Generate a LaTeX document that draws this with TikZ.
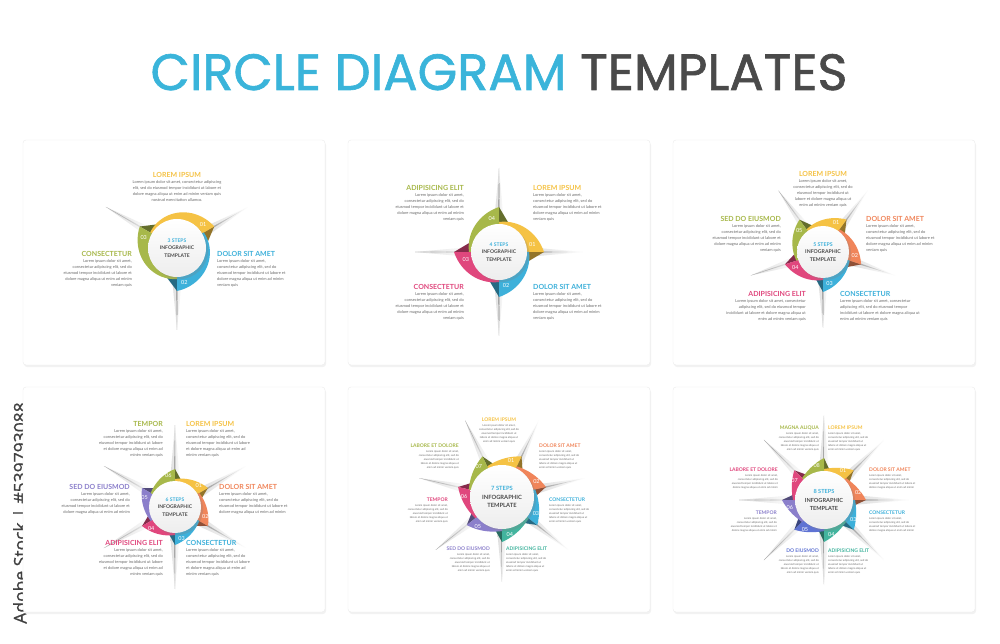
\documentclass[tikz,border=0pt]{standalone}
\usepackage{fontspec}
\newfontfamily\lato{Lato}
\newfontfamily\poppins{Poppins}[FakeBold=1.2]
\newfontfamily\opensans{Open Sans}[FakeBold=0.8]
\usepackage{tikz}
\usetikzlibrary{positioning,shadows}
\definecolor{cyel}{HTML}{F5C244}
\definecolor{cora}{HTML}{F0855A}
\definecolor{cblu}{HTML}{3DB0DA}
\definecolor{ctea}{HTML}{42B49E}
\definecolor{cind}{HTML}{5F73D3}
\definecolor{cpur}{HTML}{8B7FCB}
\definecolor{cpin}{HTML}{E0477D}
\definecolor{cgre}{HTML}{A7B84A}
\definecolor{ctxt}{HTML}{6A6A6A}
\definecolor{cdark}{HTML}{4A4A4A}
\definecolor{ctitle}{HTML}{3AB4DA}
\newcommand{\ancr}{south east}
\newcommand{\ancl}{south west}
\newcommand{\ancc}{south}
\newcommand{\loremA}{Lorem ipsum dolor sit amet,\\consectetur adipiscing elit, sed do\\eiusmod tempor incididunt ut labore et\\dolore magna aliqua ut enim ad minim\\veniam quis}
\newcommand{\loremB}{Lorem ipsum dolor sit amet, consectetur adipiscing\\elit, sed do eiusmod tempor incididunt ut labore et\\dolore magna aliqua ut enim ad minim veniam quis\\nostrud exercitation ullamco.}
\newcommand{\loremC}{Lorem ipsum dolor sit amet,\\consectetur adipiscing elit, sed do\\eiusmod tempor incididunt ut\\labore et dolore magna aliqua ut\\enim ad minim veniam quis}
\newcommand{\loremD}{Lorem ipsum dolor sit amet, consectetur\\adipiscing elit, sed do eiusmod tempor\\incididunt ut labore et dolore magna aliqua ut\\enim ad minim veniam quis}
\newcommand{\loremE}{Lorem ipsum dolor sit amet,\\consectetur adipiscing elit, sed do\\eiusmod tempor incididunt ut labore et\\dolore magna aliqua ut enim ad minim}
\newcommand{\loremF}{Lorem ipsum dolor sit amet,\\consectetur adipiscing elit, sed do\\eiusmod tempor incididunt ut labore\\et dolore magna aliqua ut enim ad\\minim veniam quis}
% heading and text block: name, position, side (r/l/c), colour, heading, text
\newcommand{\note}[6]{
  \node (#1) [head, head-#3, text=#4] at (#2) {#5};
  \node (#1t) [body, below=2.2pt of #1.\csname anc#3\endcsname, body-#3] {#6};}
% one wheel: name, centre, steps, first end angle, hub radius, ring radius, spoke length, colours, hub font size
\newcommand{\wheel}[9]{
  \begin{scope}[shift={#2}]
    \pgfmathsetmacro{\stp}{360/#3}
    \pgfmathsetmacro{\hubskip}{1.5*#9}
    % spokes
    \foreach \k in {1,...,#3} {
      \pgfmathsetmacro{\aend}{#4-(\k-1)*\stp}
      \begin{scope}[rotate=\aend]
        \shade[spokeglow] (#5,5) -- (#7,0) -- (#5,-5) -- cycle;
        \shade[spoke] (#5,0.9) -- (#7,0) -- (#5,-0.9) -- cycle;
      \end{scope}
    }
    % folds under the segment ends
    \foreach \col [count=\k] in {#8} {
      \pgfmathsetmacro{\aend}{#4-(\k-1)*\stp}
      \fill[\col!60!black] ({\aend}:{#6}) -- ({\aend}:{#5-3})
          -- ({\aend-0.4*\stp}:{#5-3}) -- cycle;
    }
    % segments
    \foreach \col [count=\k] in {#8} {
      \pgfmathsetmacro{\aend}{#4-(\k-1)*\stp}
      \pgfmathsetmacro{\abeg}{\aend+\stp}
      \fill[\col] plot[domain=0:1,samples=30,variable=\t]
          ({\abeg-\t*\stp}:{#5+2+(#6-#5-2)*(0.4*\t+0.6*\t*\t)})
        -- ({\aend}:{#5-3}) arc[start angle=\aend, end angle=\abeg, radius={#5-3}] -- cycle;
    }
    \node (#1) [hub, minimum size={2*#5},
      font={\lato\bfseries\fontsize{#9}{\hubskip}\selectfont}] at (0,0)
      {\textcolor{cblu}{#3 STEPS}\\INFOGRAPHIC\\TEMPLATE};
    \foreach \col [count=\k] in {#8} {
      \pgfmathsetmacro{\aend}{#4-(\k-1)*\stp}
      \node (#1n\k) [num] at ({\aend+12}:{#5+6}) {0\k};
    }
  \end{scope}}

\begin{document}
\begin{tikzpicture}
[x=1pt,y=1pt,
card/.style={fill=white,draw=black!8,rounded corners=3pt},
cardshade/.style={fill=black!5,rounded corners=3pt},
spoke/.style={left color=black!45,right color=white},
spokeglow/.style={left color=black!14,right color=white},
hub/.style={circle,inner sep=0,top color=white,bottom color=black!7,
  drop shadow={opacity=0.25},align=center,text=cdark},
num/.style={text=white,inner sep=0,font=\lato\fontsize{5.5}{6}\selectfont},
head/.style={inner sep=0,font=\lato\bfseries\fontsize{7}{8}\selectfont},
body/.style={inner sep=0,text=ctxt,font=\lato\fontsize{4}{6}\selectfont},
head-r/.style={anchor=east}, body-r/.style={anchor=north east,align=right},
head-l/.style={anchor=west}, body-l/.style={anchor=north west,align=left},
head-c/.style={anchor=center}, body-c/.style={anchor=north,align=center}]
\useasboundingbox (0,0) rectangle (1000,643);

\node (title) [anchor=base,font=\poppins\fontsize{51}{51}\selectfont] at (499,553)
  {\textcolor{ctitle}{CIRCLE DIAGRAM} \textcolor{cdark}{TEMPLATES}};
\node (stock) [rotate=90,text=black!75,font=\opensans\fontsize{17.5}{17.5}\selectfont]
  at (22,130) {Adobe Stock | \#539793088};

% cards
\foreach \x in {23,348,673}
  \foreach \y in {31,278} {
    \fill[cardshade] (\x+1,\y-2) rectangle ++(302,225);
    \filldraw[card] (\x,\y) rectangle ++(302,225);
  }

% 3 steps
\wheel{hub3}{(177,395)}{3}{30}{29}{43}{82}{cyel,cblu,cgre}{5}
\note{p1a}{177,468}{c}{cyel}{LOREM IPSUM}{\loremB}
\note{p1b}{132,389}{r}{cgre}{CONSECTETUR}{\loremA}
\note{p1c}{217,389}{l}{cblu}{DOLOR SIT AMET}{\loremA}

% 4 steps
\wheel{hub4}{(499,391)}{4}{0}{28}{45}{84}{cyel,cblu,cpin,cgre}{5}
\note{p2a}{464,455}{r}{cgre}{ADIPISICING ELIT}{\loremA}
\note{p2b}{533,455}{l}{cyel}{LOREM IPSUM}{\loremA}
\note{p2c}{464,356}{r}{cpin}{CONSECTETUR}{\loremA}
\note{p2d}{533,356}{l}{cblu}{DOLOR SIT AMET}{\loremA}

% 5 steps
\wheel{hub5}{(823,391)}{5}{54}{26}{40}{76}{cyel,cora,cblu,cpin,cgre}{5.2}
\note{p3a}{823,469}{c}{cyel}{LOREM IPSUM}{\loremC}
\note{p3b}{781,424}{r}{cgre}{SED DO EIUSMOD}{\loremA}
\note{p3c}{866,424}{l}{cora}{DOLOR SIT AMET}{\loremA}
\note{p3d}{806,349}{r}{cpin}{ADIPISICING ELIT}{\loremD}
\note{p3e}{840,349}{l}{cblu}{CONSECTETUR}{\loremD}

% 6 steps
\wheel{hub6}{(175,136)}{6}{30}{26}{38}{82}{cyel,cora,cblu,cpin,cpur,cgre}{5}
\note{p4a}{163,219}{r}{cgre}{TEMPOR}{\loremF}
\note{p4b}{186,219}{l}{cyel}{LOREM IPSUM}{\loremF}
\note{p4c}{130,156}{r}{cpur}{SED DO EIUSMOD}{\loremE}
\note{p4d}{219,156}{l}{cora}{DOLOR SIT AMET}{\loremE}
\note{p4e}{163,100}{r}{cpin}{ADIPISICING ELIT}{\loremF}
\note{p4f}{186,100}{l}{cblu}{CONSECTETUR}{\loremF}

\begin{scope}[head/.append style={font=\lato\bfseries\fontsize{5}{6}\selectfont},
  body/.append style={font=\lato\fontsize{2.7}{4}\selectfont}]
% 7 steps
\wheel{hub7}{(502,146)}{7}{64.2857}{32}{45}{85}{cyel,cora,cblu,ctea,cpur,cpin,cgre}{5.8}
\note{p5a}{499,223}{c}{cyel}{LOREM IPSUM}{\loremC}
\note{p5b}{459,197}{r}{cgre}{LABORE ET DOLORE}{\loremC}
\note{p5c}{539,197}{l}{cora}{DOLOR SIT AMET}{\loremC}
\note{p5d}{448,143}{r}{cpin}{TEMPOR}{\loremC}
\note{p5e}{549,143}{l}{cblu}{CONSECTETUR}{\loremC}
\note{p5f}{490,94}{r}{cpur}{SED DO EIUSMOD}{\loremC}
\note{p5g}{506,94}{l}{ctea}{ADIPISICING ELIT}{\loremC}

% 8 steps
\wheel{hub8}{(824,143)}{8}{45}{29}{42}{85}{cyel,cora,cblu,ctea,cind,cpur,cpin,cgre}{5.6}
\note{p6a}{819,215}{r}{cgre}{MAGNA ALIQUA}{\loremC}
\note{p6b}{828,215}{l}{cyel}{LOREM IPSUM}{\loremC}
\note{p6c}{778,173}{r}{cpin}{LABORE ET DOLORE}{\loremE}
\note{p6d}{869,173}{l}{cora}{DOLOR SIT AMET}{\loremE}
\note{p6e}{777,130}{r}{cpur}{TEMPOR}{\loremE}
\note{p6f}{869,130}{l}{cblu}{CONSECTETUR}{\loremE}
\note{p6g}{819,92}{r}{cind}{DO EIUSMOD}{\loremC}
\note{p6h}{828,92}{l}{ctea}{ADIPISICING ELIT}{\loremC}
\end{scope}
\end{tikzpicture}
\end{document}
